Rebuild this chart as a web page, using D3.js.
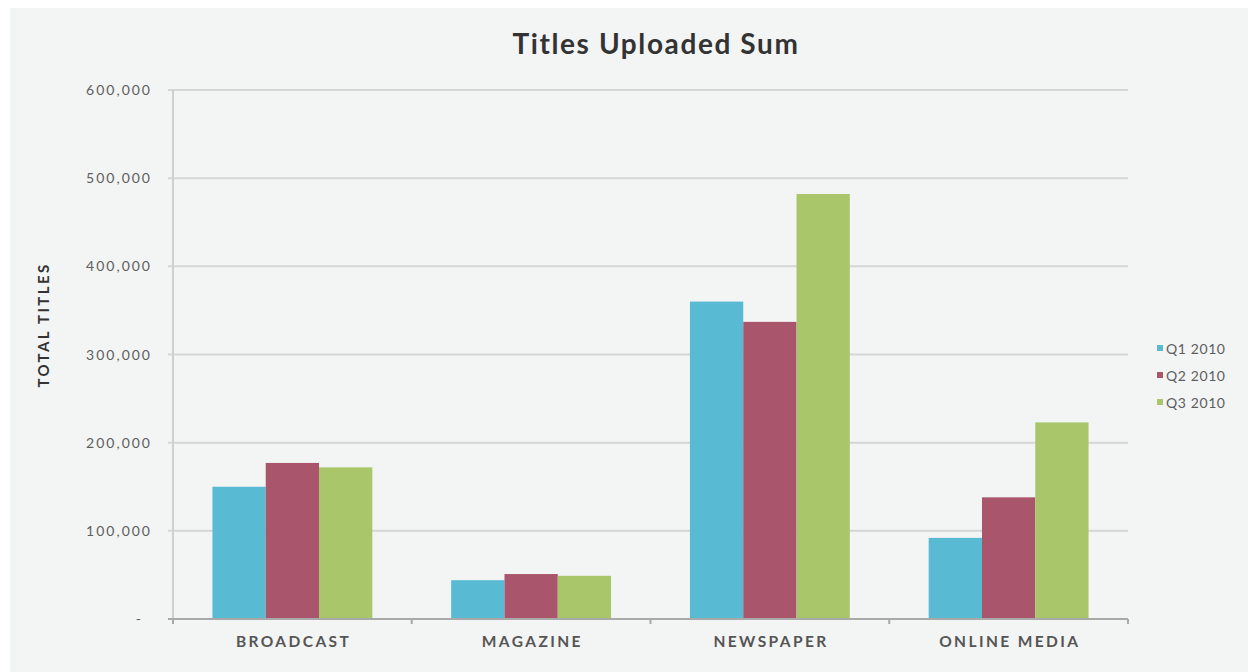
<!DOCTYPE html>
<html><head><meta charset="utf-8">
<script src="https://cdn.jsdelivr.net/npm/d3@7"></script>
<style>html,body{margin:0;padding:0;background:#fff;}svg{display:block;}</style>
</head><body>
<svg id="c" width="1248" height="672"></svg>
<script>
const categories = ["BROADCAST", "MAGAZINE", "NEWSPAPER", "ONLINE MEDIA"];
const seriesNames = ["Q1 2010", "Q2 2010", "Q3 2010"];
const q1 = [150000, 44000, 360000, 92000];
const q2 = [177000, 51000, 337000, 138000];
const q3 = [172000, 49000, 482000, 223000];
const colors = ["#58bad3", "#a9566d", "#a9c66a"];
const yTicks = [0, 100000, 200000, 300000, 400000, 500000, 600000];
const yTickLabels = ["-", "100,000", "200,000", "300,000", "400,000", "500,000", "600,000"];

(function () {
const svg = d3.select("#c");
const FF = "Lato, 'Open Sans', sans-serif";
svg.append("rect").attr("x", 10).attr("y", 8).attr("width", 1238).attr("height", 664).attr("fill", "#f3f4f4");

const pL = 173, pR = 1128, pT = 90, pB = 619;
const x = d3.scaleBand().domain(categories).range([pL, pR]).paddingInner(0).paddingOuter(0);
const xs = d3.scaleBand().domain(seriesNames).range([0, x.bandwidth()]).paddingOuter(0.74).paddingInner(0);
const y = d3.scaleLinear().domain([0, 600000]).range([pB, pT]);

// gridlines
svg.append("g").selectAll("line").data(yTicks.slice(1)).join("line")
  .attr("x1", pL - 5).attr("x2", pR)
  .attr("y1", d => y(d)).attr("y2", d => y(d))
  .attr("stroke", "#d6d6d6").attr("stroke-width", 2);

// y tick labels
svg.append("g").selectAll("text").data(yTicks).join("text")
  .attr("x", (d, i) => i === 0 ? 143 : 152).attr("y", d => y(d) + 5)
  .attr("text-anchor", "end")
  .attr("font-family", FF).attr("font-size", 14)
  .attr("letter-spacing", 2)
  .attr("fill", "#5e5e5e")
  .text((d, i) => yTickLabels[i]);

// bars
const data = categories.map((c, i) => ({c, vals: [q1[i], q2[i], q3[i]]}));
const g = svg.append("g").selectAll("g").data(data).join("g")
  .attr("transform", d => `translate(${x(d.c)},0)`);
g.selectAll("rect").data(d => d.vals.map((v, j) => ({s: seriesNames[j], v, j}))).join("rect")
  .attr("x", d => xs(d.s)).attr("width", xs.bandwidth())
  .attr("y", d => y(d.v)).attr("height", d => y(0) - y(d.v))
  .attr("fill", d => colors[d.j]);

// y axis line
svg.append("line").attr("x1", pL).attr("x2", pL).attr("y1", pT).attr("y2", pB + 4)
  .attr("stroke", "#cfcfcf").attr("stroke-width", 2);
// x axis
svg.append("line").attr("x1", pL - 5).attr("x2", pR).attr("y1", pB).attr("y2", pB)
  .attr("stroke", "#a9a9a9").attr("stroke-width", 2);
const bounds = categories.map(c => x(c)).concat([pR]);
svg.append("g").selectAll("line").data(bounds).join("line")
  .attr("x1", d => d).attr("x2", d => d).attr("y1", pB).attr("y2", pB + 5)
  .attr("stroke", "#a9a9a9").attr("stroke-width", 2);

// x labels
svg.append("g").selectAll("text").data(categories).join("text")
  .attr("x", d => x(d) + x.bandwidth() / 2 + 1.2).attr("y", 647)
  .attr("text-anchor", "middle")
  .attr("font-family", FF).attr("font-weight", "bold").attr("font-size", 15.5)
  .attr("letter-spacing", 2.4)
  .attr("fill", "#555").text(d => d);

// title
svg.append("text").attr("x", 656).attr("y", 54).attr("text-anchor", "middle")
  .attr("font-family", FF).attr("font-weight", "bold").attr("font-size", 28)
  .attr("letter-spacing", 1.6)
  .attr("fill", "#333").text("Titles Uploaded Sum");

// y axis title
svg.append("text").attr("transform", "translate(49,325) rotate(-90)").attr("text-anchor", "middle")
  .attr("font-family", FF).attr("font-weight", "bold").attr("font-size", 15)
  .attr("letter-spacing", 2.4)
  .attr("fill", "#333").text("TOTAL TITLES");

// legend
const lg = svg.append("g").selectAll("g").data(seriesNames).join("g")
  .attr("transform", (d, i) => `translate(1157,${349 + i * 27})`);
lg.append("rect").attr("x", 0).attr("y", -4).attr("width", 6).attr("height", 6).attr("fill", (d, i) => colors[i]);
lg.append("text").attr("x", 9).attr("y", 5)
  .attr("font-family", FF).attr("font-size", 14)
  .attr("letter-spacing", 0.6)
  .attr("fill", "#5e5e5e").text(d => d);
})();
</script>
</body></html>
